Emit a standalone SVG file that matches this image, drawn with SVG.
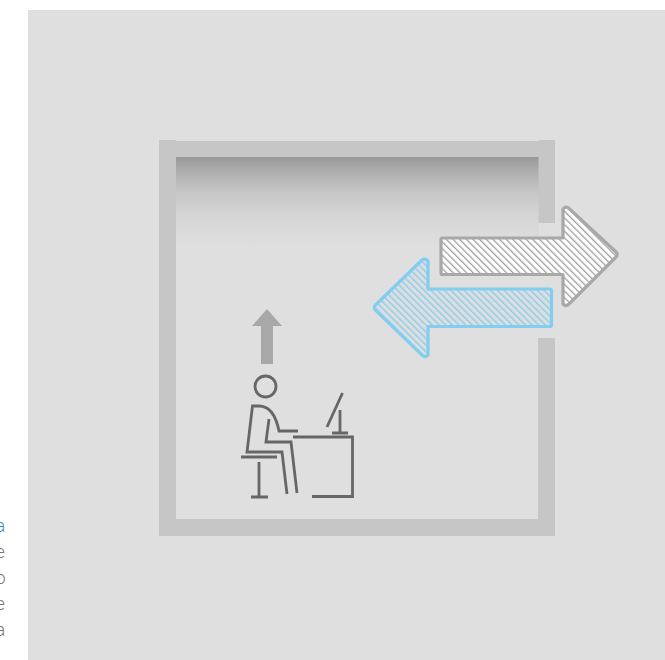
<svg xmlns="http://www.w3.org/2000/svg" width="665" height="660" viewBox="0 0 665 660">
<defs>
<linearGradient id="ceil" x1="0" y1="0" x2="0" y2="1"><stop offset="0" stop-color="#979797"/><stop offset="0.12" stop-color="#ababab"/><stop offset="0.35" stop-color="#c6c6c6"/><stop offset="0.6" stop-color="#d6d6d6"/><stop offset="0.9" stop-color="#dfdfdf"/></linearGradient>
<pattern id="hg" width="4.7" height="4.7" patternUnits="userSpaceOnUse" patternTransform="rotate(-45)"><rect width="4.700" height="4.700" fill="#fff"/><rect width="1.300" height="4.700" fill="#a0a0a0"/></pattern>
<pattern id="hb" width="4.7" height="4.7" patternUnits="userSpaceOnUse" patternTransform="rotate(-45)"><rect width="4.700" height="4.700" fill="#dedede"/><rect width="1.300" height="4.700" fill="#82cdf0"/></pattern>
</defs>
<style>
.wall{fill:#c6c6c6}
.ico{fill:none;stroke:#666;stroke-width:2.8}
.t{font-family:"Roboto","Liberation Sans",sans-serif;font-size:18px;font-weight:300;fill:#777}
</style>
<rect width="665" height="660" fill="#fff"/>
<rect x="28" y="10" width="637" height="650" fill="#dfdfdf"/>
<g id="room">
<rect x="176" y="157" width="363" height="100" fill="url(#ceil)"/>
<rect class="wall" x="159" y="140" width="17" height="396"/>
<rect class="wall" x="159" y="141" width="396" height="16"/>
<rect class="wall" x="538.500" y="140" width="16.500" height="83"/>
<rect class="wall" x="538" y="338" width="17" height="198"/>
<rect class="wall" x="159" y="519" width="396" height="17"/>
</g>
<g id="connectors">
<path id="arrow-out" d="M442.500 238H563V209Q566 205.500 569 208.500L616 252Q618.500 254.500 616 257L569 304Q566 307 563 304V274.500H442.500Q441 274.500 441 273V239.500Q441 238 442.500 238Z" fill="url(#hg)" stroke="#a8a8a8" stroke-width="3.200" stroke-linejoin="round"/>
<path id="arrow-in" d="M550 289H428V261Q425 257.500 422 260L375.500 305Q373 307.500 375.500 310L422 355Q425 358 428 355V326.500H550Q551.500 326.500 551.500 325V290.500Q551.500 289 550 289Z" fill="url(#hb)" stroke="#82cdf0" stroke-width="3.200" stroke-linejoin="round"/>
<path id="arrow-up" d="M267 309L282 326H273V364H261V326H252Z" fill="#a8a8a8"/>
</g>
<g id="person">
<circle class="ico" cx="265.500" cy="386.500" r="10.500"/>
<path class="ico" d="M287 494L282 452H247L252.500 406H259Q274 406 279 431H298"/>
<path class="ico" d="M297 493L291 442H266L269 419"/>
<path class="ico" d="M241 457H277M259 462V497M251 497H268"/>
</g>
<g id="desk">
<path class="ico" d="M293 437H352.500V496.500H312"/>
<path class="ico" d="M342.500 393L327 427M340 410V433M332 433H348"/>
</g>
<g id="clipped-text">
<text class="t" x="-4.500" y="532" style="fill:#3f8ec9">a</text>
<text class="t" x="-4.500" y="558">e</text>
<text class="t" x="-4.500" y="584">o</text>
<text class="t" x="-4.500" y="610">e</text>
<text class="t" x="-4.500" y="636">a</text>
</g>
</svg>
